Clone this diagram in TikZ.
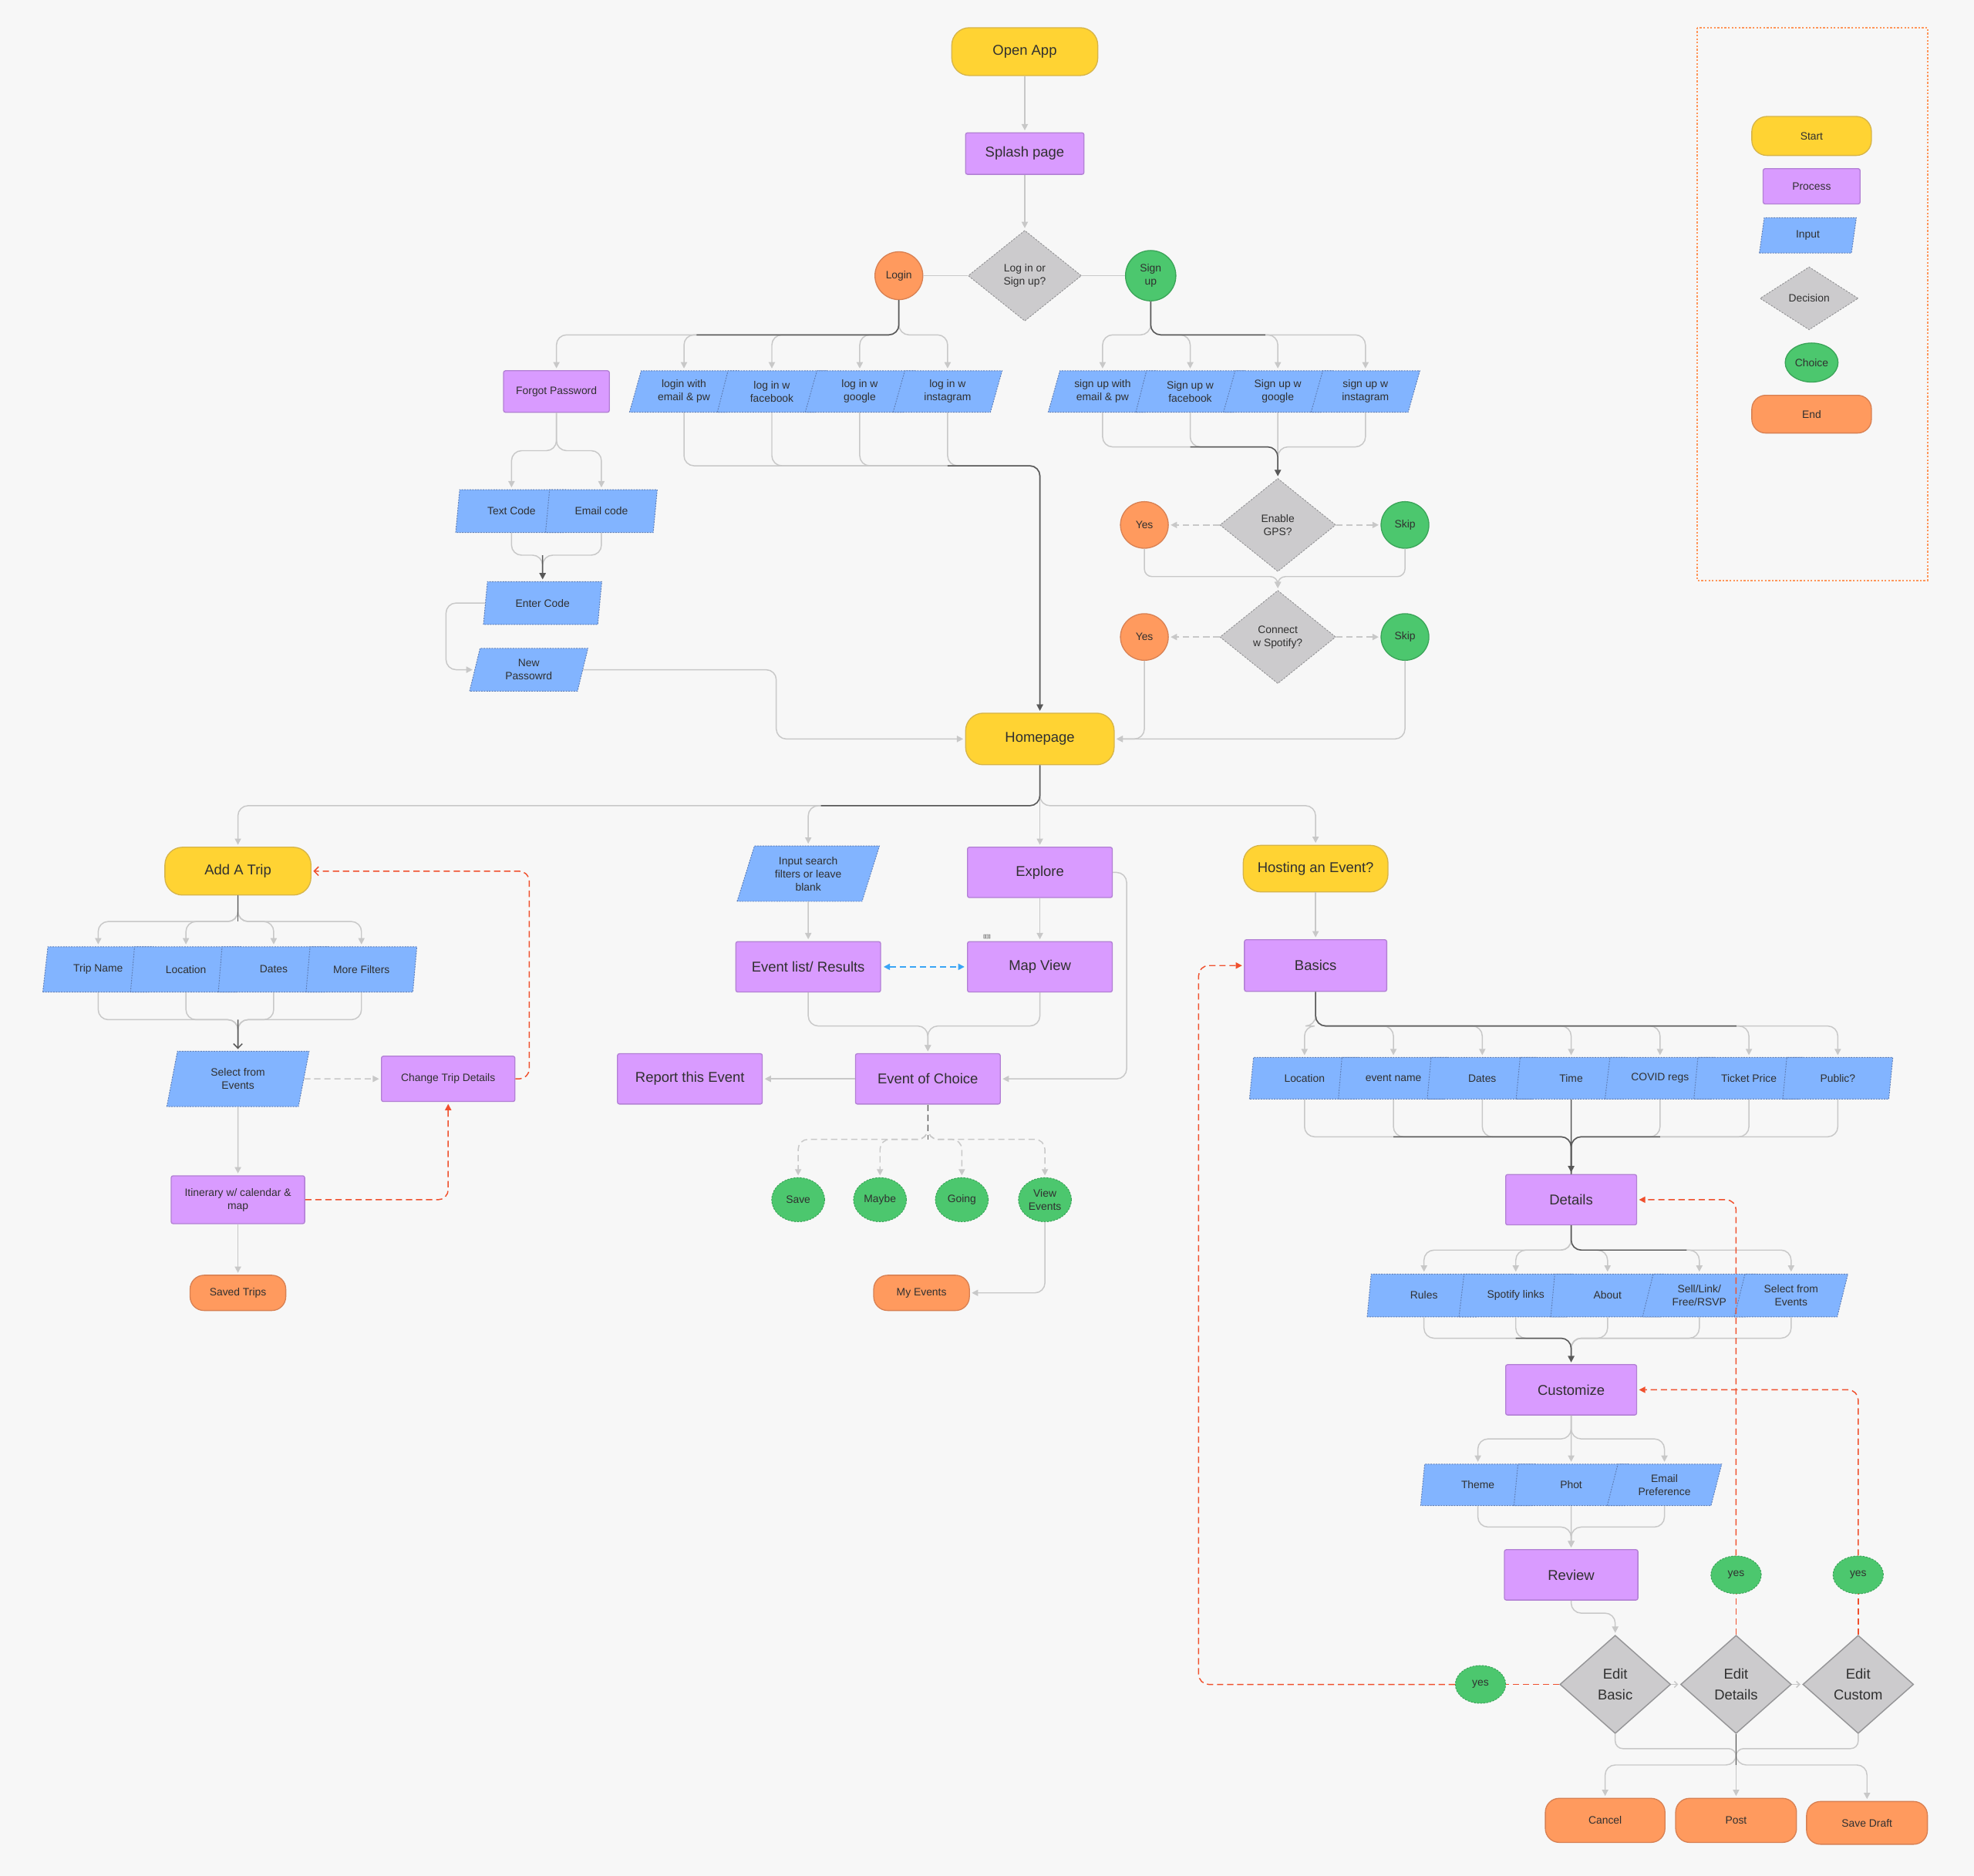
\documentclass[tikz,border=0pt]{standalone}
\usepackage{fontspec}
\setmainfont{Liberation Sans}
\usetikzlibrary{arrows.meta}
\usetikzlibrary{shapes.geometric}
\usetikzlibrary{calc}
\definecolor{paper}{RGB}{247,247,247}
\definecolor{ink}{RGB}{48,48,48}
\definecolor{startfill}{RGB}{255,211,51}
\definecolor{startline}{RGB}{214,180,72}
\definecolor{procfill}{RGB}{217,155,255}
\definecolor{procline}{RGB}{178,128,212}
\definecolor{infill}{RGB}{130,180,255}
\definecolor{inedge}{RGB}{96,128,184}
\definecolor{decfill}{RGB}{204,203,205}
\definecolor{decline}{RGB}{150,150,152}
\definecolor{chofill}{RGB}{76,199,110}
\definecolor{choline}{RGB}{58,164,88}
\definecolor{endfill}{RGB}{255,154,94}
\definecolor{endline}{RGB}{216,128,82}
\definecolor{wire}{RGB}{200,200,200}
\definecolor{wiredark}{RGB}{88,88,88}
\definecolor{loopred}{RGB}{240,80,45}
\definecolor{swapblue}{RGB}{58,165,245}
\definecolor{keyedge}{RGB}{255,150,90}
\tikzset{>=latex}
\tikzset{
  base/.style={text=ink, align=center, inner sep=0pt, line width=0.8pt},
  big/.style={font=\fontsize{11.3}{13.6}\selectfont},
  small/.style={font=\fontsize{8.5}{10.4}\selectfont},
  editfont/.style={font=\fontsize{11.3}{17}\selectfont},
  sz/.style 2 args={minimum width=#1pt, minimum height=#2pt},
  startbox/.style={base, rectangle, rounded corners=14pt, fill=startfill, draw=startline},
  endbox/.style={base, rectangle, rounded corners=11pt, fill=endfill, draw=endline},
  procbox/.style={base, rectangle, rounded corners=1.5pt, fill=procfill, draw=procline},
  inbox/.style={base, trapezium, trapezium left angle=63, trapezium right angle=117,
    trapezium stretches body, fill=infill, draw=inedge, line width=0.6pt, dash pattern=on 1.2pt off 0.9pt},
  decbox/.style={base, diamond, fill=decfill, draw=decline, line width=0.6pt, dash pattern=on 1.5pt off 1pt},
  editbox/.style={base, diamond, fill=decfill, draw=decline, line width=0.9pt},
  chobox/.style={base, ellipse, fill=chofill, draw=choline},
  chodash/.style={chobox, line width=0.6pt, dash pattern=on 1.5pt off 1pt},
  yesbox/.style={base, ellipse, fill=endfill, draw=endline},
  link/.style={draw=wire, line width=0.9pt, rounded corners=8pt},
  linkdk/.style={link, draw=wiredark},
  flow/.style={link, -{Triangle[length=5pt,width=5pt]}, shorten >=1.5pt},
  flowdk/.style={flow, draw=wiredark},
  dashflow/.style={flow, dash pattern=on 5pt off 3pt},
  redlink/.style={link, draw=loopred, dash pattern=on 5pt off 3pt},
  redflow/.style={redlink, -{Triangle[length=5pt,width=5pt]}, shorten >=1.5pt},
  swapflow/.style={link, draw=swapblue, dash pattern=on 5pt off 3pt,
    {Triangle[length=5pt,width=5pt]}-{Triangle[length=5pt,width=5pt]}, shorten >=2pt, shorten <=2pt},
  barb/.style={-{Straight Barb[length=3.5pt,width=7pt]}, shorten >=1.5pt}
}

\begin{document}
\begin{tikzpicture}[x=1pt,y=-1pt]
\fill[paper] (0,0) rectangle (1568,1490);
\useasboundingbox (0,0) rectangle (1568,1490);

\draw[keyedge, line width=1.1pt, dash pattern=on 1.4pt off 1.4pt] (1348,22) rectangle (1531,461);
\node[startbox, small, sz={95}{31}, rounded corners=12pt] (keystart) at (1439,108) {Start};
\node[procbox, small, sz={77}{28}] (keyproc) at (1439,148) {Process};
\node[inbox, small, sz={77}{28}] (keyin) at (1436,187) {Input};
\node[decbox, small, sz={78}{50}] (keydec) at (1437,237) {Decision};
\node[chobox, small, sz={42}{31}] (keycho) at (1439,288) {Choice};
\node[endbox, small, sz={95}{30}] (keyend) at (1439,329) {End};

\node[startbox, big, sz={116}{38}] (openapp) at (814,41) {Open App};
\node[procbox, big, sz={94}{33}] (splash) at (814,122) {Splash page};
\node[decbox, small, sz={90}{72}] (logdec) at (814,219) {Log in or\\Sign up?};
\node[yesbox, small, sz={38}{38}] (login) at (714,219) {Login};
\node[chobox, small, sz={40}{40}] (signup) at (914,219) {Sign\\up};

\node[procbox, small, sz={84}{33}] (forgot) at (442,311) {Forgot Password};
\foreach \lbl [count=\i] in {{login with\\email \& pw}, {log in w\\facebook}, {log in w\\google}, {log in w\\instagram}}
  \node[inbox, small, sz={86.6}{33}] (li\i) at ({543.3+(\i-1)*69.8},311) {\lbl};
\node[inbox, small, sz={88.7}{34}] (tc) at (406.3,406) {Text Code};
\node[inbox, small, sz={88.7}{34}] (ec) at (477.7,406) {Email code};
\node[inbox, small, sz={94}{34}] (entercode) at (431,479) {Enter Code};
\node[inbox, small, sz={94}{34}] (newpw) at (420,532) {New\\Passowrd};

\foreach \lbl [count=\i] in {{sign up with\\email \& pw}, {Sign up w\\facebook}, {Sign up w\\google}, {sign up w\\instagram}}
  \node[inbox, small, sz={86.4}{33}] (su\i) at ({875.8+(\i-1)*69.6},311) {\lbl};
\node[decbox, small, sz={92}{74}] (gps) at (1015,417) {Enable\\GPS?};
\node[yesbox, small, sz={38}{37}] (gpsyes) at (909,417) {Yes};
\node[chobox, small, sz={38}{37}] (gpsskip) at (1116,417) {Skip};
\node[decbox, small, sz={92}{74}] (spot) at (1015,506) {Connect\\w Spotify?};
\node[yesbox, small, sz={38}{37}] (spotyes) at (909,506) {Yes};
\node[chobox, small, sz={38}{37}] (spotskip) at (1116,506) {Skip};

\node[startbox, big, sz={118}{41}] (hp) at (826,587) {Homepage};

\node[startbox, big, sz={116}{38}] (addtrip) at (189,692) {Add A Trip};
\foreach \lbl [count=\i] in {Trip Name, Location, Dates, More Filters}
  \node[inbox, small, sz={88}{36}] (tr\i) at ({78+(\i-1)*69.7},770) {\lbl};
\node[inbox, small, sz={113}{44}] (selectev) at (189,857) {Select from\\Events};
\node[procbox, small, sz={106}{36}] (changetrip) at (356,857) {Change Trip Details};
\node[procbox, small, sz={106}{38}] (itinerary) at (189,953) {Itinerary w/ calendar \&\\map};
\node[endbox, small, sz={76}{28}] (savedtrips) at (189,1027) {Saved Trips};

\node[inbox, small, sz={113}{44}] (search) at (642,694) {Input search\\filters or leave\\blank};
\node[procbox, big, sz={115}{40}] (eventlist) at (642,768) {Event list/ Results};
\node[procbox, big, sz={115}{40}] (explore) at (826,693) {Explore};
\node[procbox, big, sz={115}{40}] (mapview) at (826,768) {Map View};
\node[text=ink, inner sep=0pt, font=\fontsize{3.5}{4}\selectfont] (glitch) at (784,744) {[[[]]]};
\node[procbox, big, sz={115}{40}] (evchoice) at (737,857) {Event of Choice};
\node[procbox, big, sz={115}{40}] (report) at (548,857) {Report this Event};
\foreach \lbl/\x/\nm in {Save/634/save, Maybe/699/maybe, Going/764/going, {View\\Events}/830/viewev}
  \node[chodash, small, sz={42}{35}] (\nm) at (\x,953) {\lbl};
\node[endbox, small, sz={76}{28}] (myevents) at (732,1027) {My Events};

\node[startbox, big, sz={115}{37}] (hosting) at (1045,690) {Hosting an Event?};
\node[procbox, big, sz={113}{41}] (basics) at (1045,767) {Basics};
\foreach \lbl [count=\i] in {Location, event name, Dates, Time, COVID regs, Ticket Price, Public?}
  \node[inbox, small, sz={87.4}{33}] (b\i) at ({1036.2+(\i-1)*70.6},856.5) {\lbl};
\node[procbox, big, sz={104}{40}] (details) at (1248,953) {Details};
\foreach \lbl [count=\i] in {Rules, Spotify links, About, {Sell/Link/\\Free/RSVP}, {Select from\\Events}}
  \node[inbox, small, sz={90.2}{34}] (d\i) at ({1131.1+(\i-1)*72.9},1029) {\lbl};
\node[procbox, big, sz={104}{40}] (customize) at (1248,1104) {Customize};
\foreach \lbl [count=\i] in {Theme, Phot, {Email\\Preference}}
  \node[inbox, small, sz={90.9}{33}] (cu\i) at ({1173.9+(\i-1)*74.1},1179.5) {\lbl};
\node[procbox, big, sz={106}{40}] (review) at (1248,1251) {Review};
\node[editbox, editfont, sz={88}{78}] (editbasic) at (1283,1338) {Edit\\Basic};
\node[editbox, editfont, sz={88}{78}] (editdetails) at (1379,1338) {Edit\\Details};
\node[editbox, editfont, sz={88}{78}] (editcustom) at (1476,1338) {Edit\\Custom};
\node[chodash, small, sz={40}{30}] (yes1) at (1176,1338) {yes};
\node[chodash, small, sz={40}{30}] (yes2) at (1379,1251) {yes};
\node[chodash, small, sz={40}{30}] (yes3) at (1476,1251) {yes};
\node[endbox, small, sz={95}{35}] (cancel) at (1275,1446) {Cancel};
\node[endbox, small, sz={96}{35}] (post) at (1379,1446) {Post};
\node[endbox, small, sz={96}{34}] (savedraft) at (1483,1448) {Save Draft};

\coordinate (lifork) at (714,266);
\coordinate (lijoin) at (826,370);
\coordinate (fpfork) at (442,358);
\coordinate (fpjoin) at (431,441);
\coordinate (sufork) at (914,266);
\coordinate (sujoin) at (1015,355);
\coordinate (gpsjoin) at (1015,458);
\coordinate (hpfork) at (826,640);
\coordinate (atfork) at (189,732);
\coordinate (atjoin) at (189,810);
\coordinate (evjoin) at (737,815);
\coordinate (ecfork) at (737,905);
\coordinate (bfork) at (1045,815);
\coordinate (bjoin) at (1248,903);
\coordinate (dfork) at (1248,993);
\coordinate (djoin) at (1248,1063);
\coordinate (cfork) at (1248,1143);
\coordinate (cjoin) at (1248,1213);
\coordinate (ejoin) at (1379,1389);
\coordinate (efork) at (1379,1402);

\draw[flow] (openapp) -- (splash);
\draw[flow] (splash) -- (logdec);
\draw[link] (login) -- (logdec);
\draw[link] (signup) -- (logdec);

\foreach \n in {forgot,li1,li2,li3,li4}
  \draw[flow] (login.south) -- (lifork) -| (\n.north);
\draw[linkdk] (login.south) -- (lifork) -- ($(lifork -| li1.north)+(10,0)$);
\foreach \n in {li1,li2,li3,li4}
  \draw[flow] (\n.south) |- (lijoin) -- (hp.north);
\draw[flowdk] (li4.south |- lijoin) -- (lijoin) -- (hp.north);

\foreach \n in {tc,ec}
  \draw[flow] (forgot.south) -- (fpfork) -| (\n.north);
\foreach \n in {tc,ec}
  \draw[flow] (\n.south) |- (fpjoin) -- (entercode.north);
\draw[flowdk] (fpjoin) -- (entercode.north);
\draw[flow] (entercode.west) -- ++(-31,0) |- (newpw.west);
\draw[flow] (newpw.east) -| ([xshift=-150pt]hp.west) -- (hp.west);

\foreach \n in {su1,su2,su3,su4}
  \draw[flow] (signup.south) -- (sufork) -| (\n.north);
\draw[linkdk] (signup.south) -- (sufork) -- ($(sufork -| su3.north)+(-10,0)$);
\foreach \n in {su1,su2,su4}
  \draw[flow] (\n.south) |- (sujoin) -- (gps.north);
\draw[flow] (su3) -- (gps);
\draw[flowdk] (su2.south |- sujoin) -- (sujoin) -- (gps.north);

\draw[dashflow] (gps) -- (gpsyes);
\draw[dashflow] (gps) -- (gpsskip);
\foreach \n in {gpsyes,gpsskip}
  \draw[flow, rounded corners=6pt] (\n.south) |- (gpsjoin) -- (spot.north);
\draw[dashflow] (spot) -- (spotyes);
\draw[dashflow] (spot) -- (spotskip);
\draw[flow] (spotyes.south) |- (hp.east);
\draw[flow] (spotskip.south) |- (hp.east);

\foreach \n in {addtrip,search,hosting}
  \draw[flow] (hp.south) -- (hpfork) -| (\n.north);
\draw[flow] (hp) -- (explore);
\draw[linkdk] (hp.south) -- (hpfork) -- ($(hpfork -| search.north)+(10,0)$);

\foreach \n in {tr1,tr2,tr3,tr4}
  \draw[flow] (addtrip.south) -- (atfork) -| (\n.north);
\draw[linkdk] (addtrip.south) -- (atfork);
\foreach \n in {tr1,tr2,tr3,tr4}
  \draw[link] (\n.south) |- (atjoin) -- ([yshift=1.5pt]selectev.north);
\draw[linkdk, barb] (atjoin) -- (selectev.north);
\draw[dashflow] (selectev.east) -- (changetrip.west);
\draw[redlink, barb] (changetrip.east) -- ++(11,0) |- (addtrip.east);
\draw[flow] (selectev) -- (itinerary);
\draw[redflow] (itinerary.east) -| (changetrip.south);
\draw[flow] (itinerary) -- (savedtrips);

\draw[flow] (search) -- (eventlist);
\draw[flow] (explore) -- (mapview);
\draw[swapflow] (eventlist) -- (mapview);
\foreach \n in {eventlist,mapview}
  \draw[flow] (\n.south) |- (evjoin) -- (evchoice.north);
\draw[flow] (explore.east) -- ++(11,0) |- (evchoice.east);
\draw[flow] (evchoice) -- (report);
\foreach \n in {save,maybe,going,viewev}
  \draw[dashflow] (evchoice.south) -- (ecfork) -| (\n.north);
\draw[linkdk, dash pattern=on 5pt off 3pt] (evchoice.south) -- (ecfork);
\draw[flow] (viewev.south) |- (myevents.east);

\draw[flow] (hosting) -- (basics);
\foreach \n in {b1,b2,b3,b4,b5,b6,b7}
  \draw[flow] (basics.south) -- (bfork) -| (\n.north);
\draw[linkdk] (basics.south) -- (bfork) -- ($(bfork -| b6.north)+(-10,0)$);
\foreach \n in {b1,b2,b3,b5,b6,b7}
  \draw[flow] (\n.south) |- (bjoin) -- (details.north);
\draw[linkdk] (b2.south |- bjoin) -- (bjoin) -- (details.north);
\draw[linkdk] (b5.south |- bjoin) -- (bjoin) -- (details.north);
\draw[flowdk] (b4) -- (details);

\foreach \n in {d1,d2,d3,d4,d5}
  \draw[flow] (details.south) -- (dfork) -| (\n.north);
\draw[linkdk] (details.south) -- (dfork) -- ($(dfork -| d4.north)+(-10,0)$);
\foreach \n in {d1,d2,d3,d4,d5}
  \draw[flow] (\n.south) |- (djoin) -- (customize.north);
\draw[flowdk] (d2.south |- djoin) -- (djoin) -- (customize.north);

\foreach \n in {cu1,cu3}
  \draw[flow] (customize.south) -- (cfork) -| (\n.north);
\draw[flow] (customize) -- (cu2);
\foreach \n in {cu1,cu3}
  \draw[flow] (\n.south) |- (cjoin) -- (review.north);
\draw[flow] (cu2) -- (review);

\draw[flow] (review.south) -- ++(0,10) -| (editbasic.north);
\draw[flow, -{Straight Barb[length=2.5pt,width=5pt]}] (editbasic) -- (editdetails);
\draw[flow, -{Straight Barb[length=2.5pt,width=5pt]}] (editdetails) -- (editcustom);

\draw[redlink] (editbasic.west) -- (yes1.east);
\draw[redflow] (yes1.west) -| ([xshift=-36pt]basics.west) -- (basics.west);
\draw[redlink] (editdetails.north) -- (yes2.south);
\draw[redflow] (yes2.north) |- (details.east);
\draw[redlink] (editcustom.north) -- (yes3.south);
\draw[redflow] (yes3.north) |- (customize.east);

\draw[link, rounded corners=6pt] (editbasic.south) |- (ejoin) -- (efork);
\draw[link, rounded corners=6pt] (editcustom.south) |- (ejoin) -- (efork);
\foreach \n in {cancel,savedraft}
  \draw[flow] (editdetails.south) -- (efork) -| (\n.north);
\draw[flow] (editdetails) -- (post);
\draw[linkdk] (editdetails.south) -- (efork);
\end{tikzpicture}
\end{document}
